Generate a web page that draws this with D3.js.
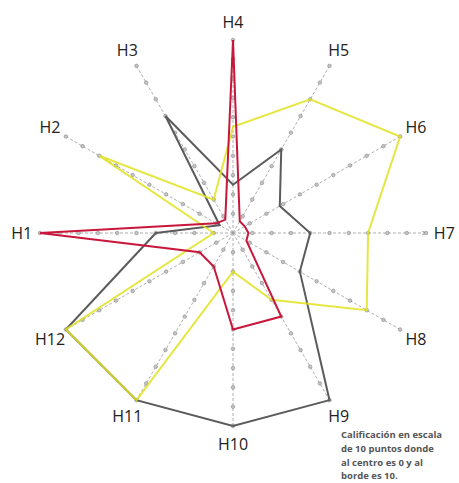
<!DOCTYPE html>
<html>
<head>
<meta charset="utf-8">
<script src="https://cdn.jsdelivr.net/npm/d3@7"></script>
<style>
  html, body { margin: 0; padding: 0; background: #fff; }
  svg { display: block; }
</style>
</head>
<body>
<svg id="chart" width="459" height="483"></svg>
<script>
const categories = ["H1","H2","H3","H4","H5","H6","H7","H8","H9","H10","H11","H12"];
const greySeries   = [4, 0.8, 7, 2.5, 5, 2.8, 4, 4, 10, 10, 10, 10];
const yellowSeries = [1, 8, 2, 5.5, 8, 10, 7, 8, 4, 2, 10, 10];
const redSeries    = [10, 1, 0.8, 10, 0.7, 0.7, 0.8, 0.8, 5, 5, 2, 2];
const tickValues = [1,2,3,4,5,6,7,8,9,10];
const noteLines = ["Calificación en escala", "de 10 puntos donde", "al centro es 0 y al", "borde es 10."];

const svg = d3.select("#chart");
const cx = 233, cy = 233, R = 193;
const r = d3.scaleLinear().domain([0, 10]).range([0, R]);
const angle = d3.scalePoint().domain(categories).range([-Math.PI/2, -Math.PI/2 + (11/12) * 2 * Math.PI]);

const g = svg.append("g").attr("transform", `translate(${cx},${cy})`);

function pt(cat, v) {
  const a = angle(cat);
  return [Math.sin(a) * r(v), -Math.cos(a) * r(v)];
}

svg.append("defs").append("marker")
  .attr("id", "arr").attr("viewBox", "0 0 10 10").attr("refX", 9).attr("refY", 5)
  .attr("markerWidth", 6).attr("markerHeight", 6).attr("orient", "auto")
  .append("path").attr("d", "M1,1 L9,5 L1,9").attr("fill", "none").attr("stroke", "#777").attr("stroke-width", 1.5);

const axes = g.selectAll("g.axis").data(categories).join("g").attr("class", "axis");
axes.append("line")
  .attr("x1", 0).attr("y1", 0)
  .attr("x2", d => pt(d, 10)[0]).attr("y2", d => pt(d, 10)[1])
  .attr("stroke", "#9a9a9a").attr("stroke-width", 0.8)
  .attr("stroke-dasharray", "3,2")
  .attr("marker-end", d => d === "H7" ? "url(#arr)" : null);
axes.selectAll("circle")
  .data(c => tickValues.map(v => ({c, v})))
  .join("circle")
  .attr("cx", d => pt(d.c, d.v)[0]).attr("cy", d => pt(d.c, d.v)[1])
  .attr("r", 1.8)
  .attr("fill", "#c4c4c4").attr("stroke", "#8a8a8a").attr("stroke-width", 0.6);

const line = d3.lineRadial()
  .angle((d, i) => angle(categories[i]))
  .radius(d => r(d))
  .curve(d3.curveLinearClosed);

const series = [
  {vals: greySeries, color: "#5b5b5b", op: 1},
  {vals: yellowSeries, color: "#e2e221", op: 0.85},
  {vals: redSeries, color: "#c8173a", op: 1}
];
g.selectAll("path.series").data(series).join("path")
  .attr("class", "series")
  .attr("d", d => line(d.vals))
  .attr("fill", "none")
  .attr("stroke", d => d.color)
  .attr("stroke-opacity", d => d.op)
  .attr("stroke-width", 2)
  .attr("stroke-linejoin", "miter");

g.selectAll("text.lab").data(categories).join("text")
  .attr("class", "lab")
  .attr("x", d => pt(d, 10.95)[0]).attr("y", d => pt(d, 10.95)[1])
  .attr("text-anchor", "middle").attr("dominant-baseline", "central")
  .attr("font-family", "'Open Sans', 'DejaVu Sans', sans-serif")
  .attr("font-size", 16)
  .attr("fill", "#222")
  .text(d => d);

svg.append("text")
  .attr("x", 341).attr("y", 438)
  .attr("font-family", "'Open Sans', sans-serif")
  .attr("font-size", 9.5).attr("font-weight", 700)
  .attr("fill", "#555")
  .selectAll("tspan").data(noteLines).join("tspan")
  .attr("x", 341).attr("dy", (d, i) => i === 0 ? 0 : 13.8)
  .text(d => d);
</script>
</body>
</html>
